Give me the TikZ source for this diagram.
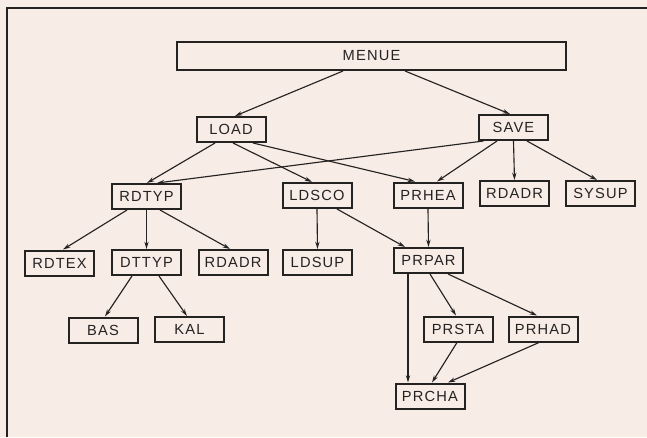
\documentclass[tikz,border=0pt]{standalone}
\usepackage{fontspec}
\newfontfamily\plotfont[LetterSpace=8]{Liberation Sans}
\usepackage{tikz}
\usetikzlibrary{arrows.meta,calc}

\definecolor{paper}{HTML}{F7ECE6}
\definecolor{ink}{HTML}{252222}

\tikzset{
  modul/.style={draw=ink, line width=1.5pt, fill=paper, minimum width=51.75pt,
    minimum height=18.75pt, inner sep=0pt, font=\plotfont\fontsize{11}{13}\selectfont, text=ink},
  call/.style={draw=ink, line width=0.85pt, -{Stealth[length=5.5pt,width=3.2pt]}}
}

\begin{document}
\begin{tikzpicture}[x=0.75pt, y=-0.75pt]

\fill[paper] (0,0) rectangle (647,437);
\useasboundingbox (0,0) rectangle (647,437);

% frame
\coordinate (frameTL) at (7,8);
\coordinate (frameTR) at (647,8);
\coordinate (frameBL) at (7,437);
\draw[ink, line width=1.5pt] (frameBL) -- (frameTL) -- (frameTR);

% main program
\node[modul, minimum width=291.75pt, minimum height=21pt] (MENUE) at (371.5,56) {MENUE};

\node[modul] (LOAD) at (231,129.5) {LOAD};
\node[modul] (SAVE) at (513.5,127.5) {SAVE};

\node[modul] (RDTYP) at (146.5,196.5) {RDTYP};
\node[modul] (LDSCO) at (317,195.5) {LDSCO};
\node[modul] (PRHEA) at (428,195) {PRHEA};
\node[modul] (RDADRa) at (514.5,193.5) {RDADR};
\node[modul] (SYSUP) at (600.5,193.5) {SYSUP};

\node[modul] (RDTEX) at (59.5,263) {RDTEX};
\node[modul] (DTTYP) at (146.5,262.5) {DTTYP};
\node[modul] (RDADRb) at (233,262.5) {RDADR};
\node[modul] (LDSUP) at (317.5,262.5) {LDSUP};
\node[modul] (PRPAR) at (428.5,260.5) {PRPAR};

\node[modul] (BAS) at (103,330) {BAS};
\node[modul] (KAL) at (189.5,329.5) {KAL};
\node[modul] (PRSTA) at (458,329) {PRSTA};
\node[modul] (PRHAD) at (543,329) {PRHAD};

\node[modul] (PRCHA) at (430,396) {PRCHA};

% calls
\draw[call] ($(MENUE.south)+(-28.5,0)$) -- ($(LOAD.north)+(4,0)$);
\draw[call] ($(MENUE.south)+(33.5,0)$) -- ($(SAVE.north)+(-3.5,0)$);

\draw[call] ($(LOAD.south)+(-16,0)$) -- ($(RDTYP.north)+(0.5,0)$);
\draw[call] ($(LOAD.south)+(2,0)$) -- ($(LDSCO.north)+(-5,0)$);
\draw[call] ($(LOAD.south)+(22,0)$) -- ($(PRHEA.north)+(-13,0)$);

\draw[call] ($(SAVE.south)+(-30,0)$) -- ($(RDTYP.north)+(10.5,0)$);
\draw[call] ($(SAVE.south)+(-16.5,0)$) -- ($(PRHEA.north)+(9,0)$);
\draw[call] (SAVE.south) -- (RDADRa.north);
\draw[call] ($(SAVE.south)+(13.5,0)$) -- ($(SYSUP.north)+(-3.5,0)$);

\draw[call] ($(RDTYP.south)+(-19.5,0)$) -- ($(RDTEX.north)+(3.5,0)$);
\draw[call] (RDTYP.south) -- (DTTYP.north);
\draw[call] ($(RDTYP.south)+(13.5,0)$) -- ($(RDADRb.north)+(-3,0)$);

\draw[call] (LDSCO.south) -- (LDSUP.north);
\draw[call] ($(LDSCO.south)+(20,0)$) -- ($(PRPAR.north)+(-23.5,0)$);
\draw[call] (PRHEA.south) -- (PRPAR.north);

\draw[call] ($(DTTYP.south)+(-14.5,0)$) -- ($(BAS.north)+(2,0)$);
\draw[call] ($(DTTYP.south)+(12.5,0)$) -- ($(KAL.north)+(-2.5,0)$);

\draw[call] ($(PRPAR.south)+(1.5,0)$) -- ($(PRSTA.north)+(-2,0)$);
\draw[call] ($(PRPAR.south)+(19.5,0)$) -- ($(PRHAD.north)+(-6,0)$);
\draw[call] ($(PRPAR.south)+(-20.5,0)$) -- ($(PRCHA.north)+(-22,0)$);
\draw[call] ($(PRSTA.south)+(-1,0)$) -- ($(PRCHA.north)+(2,0)$);
\draw[call] ($(PRHAD.south)+(-4,0)$) -- ($(PRCHA.north)+(18,0)$);

\end{tikzpicture}
\end{document}
